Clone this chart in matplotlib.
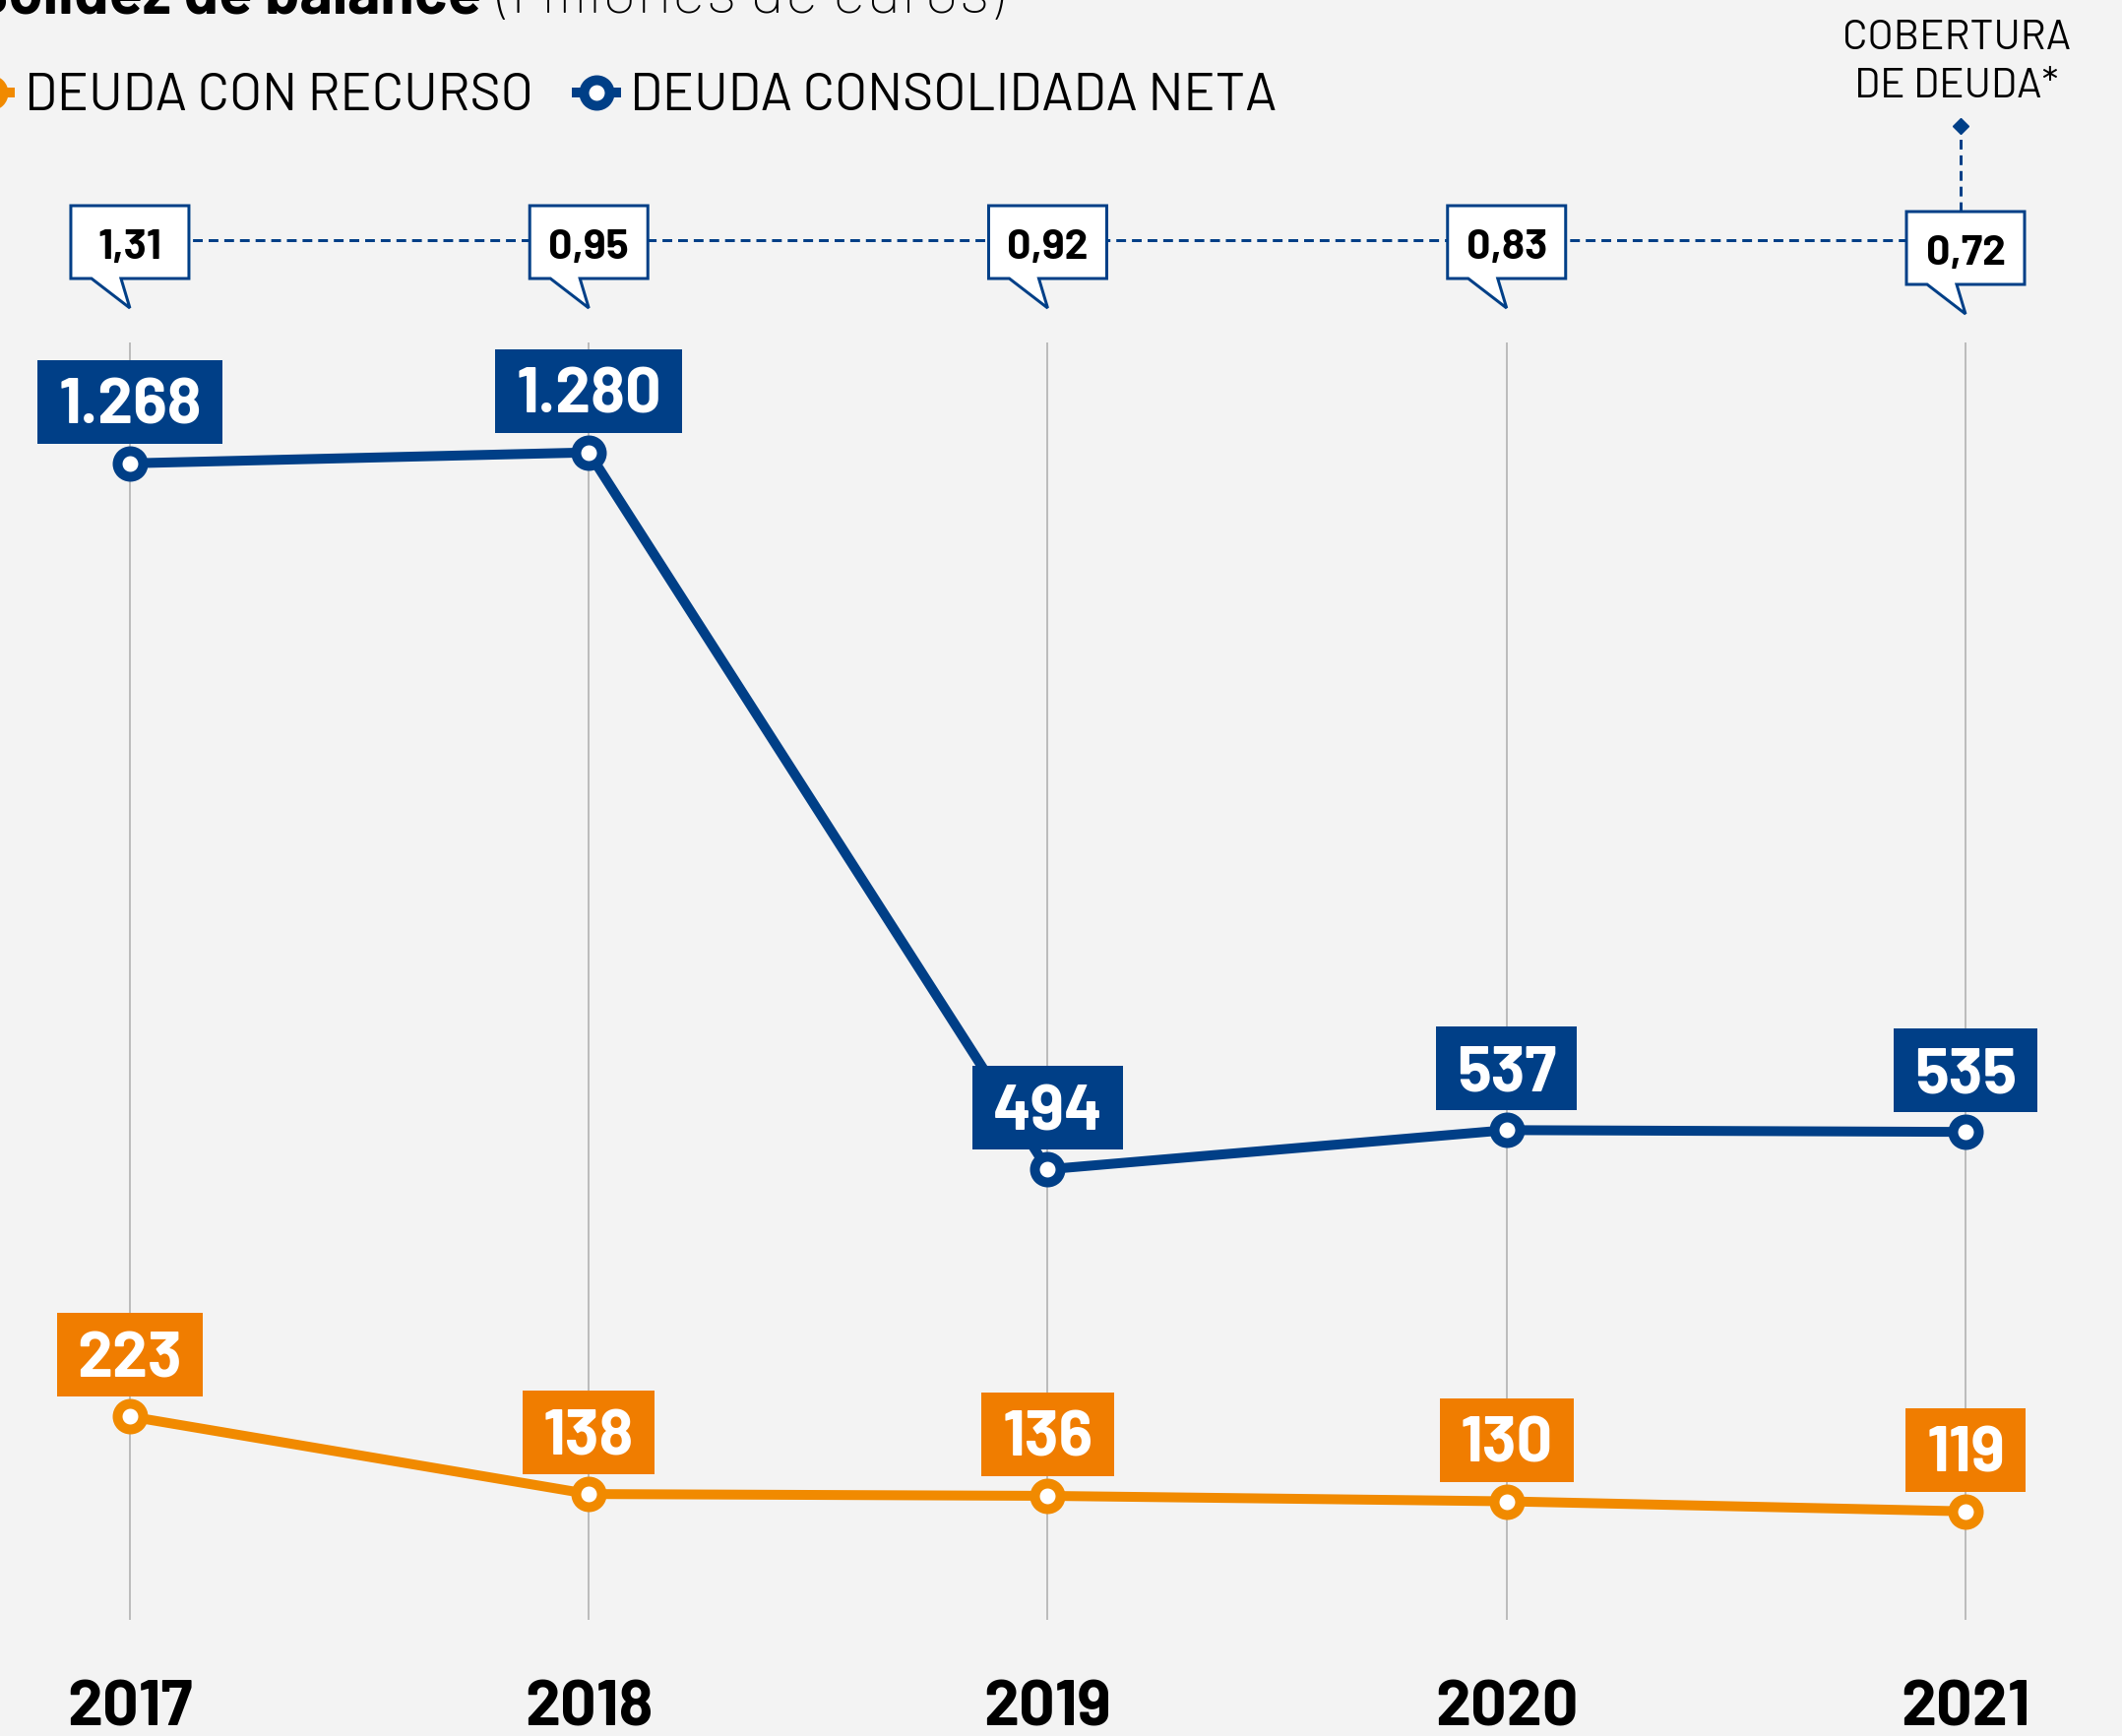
import matplotlib
matplotlib.use('Agg')
import matplotlib.pyplot as plt
from matplotlib.patches import Rectangle, Polygon
from matplotlib.transforms import IdentityTransform
from matplotlib.font_manager import FontProperties
from matplotlib.textpath import TextPath

# ---------------- data ----------------
years = [2017, 2018, 2019, 2020, 2021]
year_labels = ['2017', '2018', '2019', '2020', '2021']
deuda_recurso = [223, 138, 136, 130, 119]
recurso_labels = ['223', '138', '136', '130', '119']
deuda_neta = [1268, 1280, 494, 537, 535]
neta_labels = ['1.268', '1.280', '494', '537', '535']
cobertura = [1.31, 0.95, 0.92, 0.83, 0.72]
cobertura_labels = ['1,31', '0,95', '0,92', '0,83', '0,72']
series_names = ['DEUDA CON RECURSO', 'DEUDA CONSOLIDADA NETA']
title_bold = 'Solidez de balance'
title_light = '(Millones de euros)'
coverage_title = ['COBERTURA', 'DE DEUDA*']

# ---------------- style ----------------
W, H, DPI = 2156, 1764, 100
BG = '#F3F3F3'
BLUE = '#003F87'
ORANGE_BOX = '#F07D00'
ORANGE_LINE = '#F18A00'
GRID = '#ABABAB'
FONT = 'Barlow'
PT = 72 / DPI  # points per pixel

plt.rcParams['font.family'] = [FONT, 'Roboto', 'DejaVu Sans']


def cap_ratio(weight):
    fp = FontProperties(family=[FONT, 'Roboto', 'DejaVu Sans'], weight=weight)
    return TextPath((0, 0), 'H', size=100, prop=fp).get_extents().height / 100


def fs_for_cap(cap_px, weight='normal'):
    """font size (pt) giving a given cap height in pixels"""
    return cap_px / cap_ratio(weight) * PT


fig = plt.figure(figsize=(W / DPI, H / DPI), dpi=DPI, facecolor=BG)
ax = fig.add_axes([0, 0, 1, 1])
ax.set_facecolor(BG)
ax.set_xlim(2016.717, 2021.341)
ax.set_ylim(-127.3, 1776)
ax.axis('off')
ID = IdentityTransform()
renderer = fig.canvas.get_renderer()


def to_px(x, y):
    return ax.transData.transform((x, y))


def top(y_top):
    """convert a top-origin pixel y into display y"""
    return H - y_top


# ---------------- title (cut off at top) ----------------
ax.text(489, top(13), title_bold, transform=ID, ha='right', va='baseline',
        fontsize=fs_for_cap(44, 'bold'), fontweight='bold', color='black',
        clip_on=False)
ax.text(505, top(13), title_light, transform=ID, ha='left', va='baseline',
        fontsize=fs_for_cap(46.5, 'bold'), fontweight='light', color='black',
        clip_on=False)

# ---------------- legend ----------------
leg_y = top(94)
LEG_FS = fs_for_cap(37.3)
for cx, col, tx, name in [(-10, ORANGE_LINE, 25, series_names[0]),
                          (606, BLUE, 640, series_names[1])]:
    ax.plot([cx - 25, cx + 25], [leg_y, leg_y], transform=ID, color=col,
            lw=10 * PT, solid_capstyle='butt', clip_on=False)
    ax.plot([cx], [leg_y], transform=ID, marker='o', ms=18.7, mew=7.2,
            mfc='white', mec=col, clip_on=False)
    ax.text(tx, leg_y - 18, name, transform=ID, ha='left', va='baseline',
            fontsize=LEG_FS, color='black')

# ---------------- grid lines ----------------
ax.vlines(years, 0, 1400, color=GRID, lw=1.5 * PT, zorder=1)

# ---------------- lines ----------------
ax.plot(years, deuda_neta, color=BLUE, lw=10 * PT, zorder=3,
        solid_joinstyle='round')
ax.plot(years, deuda_neta, ls='none', marker='o', ms=18.7, mew=7.2,
        mfc='white', mec=BLUE, zorder=9)
ax.plot(years, deuda_recurso, color=ORANGE_LINE, lw=10 * PT, zorder=3,
        solid_joinstyle='round')
ax.plot(years, deuda_recurso, ls='none', marker='o', ms=18.7, mew=7.2,
        mfc='white', mec=ORANGE_LINE, zorder=9)

# ---------------- value labels ----------------
CAP = 45
VAL_FS = fs_for_cap(CAP, 'bold')


def value_box(x, y, label, color):
    px, py = to_px(x, y)
    bottom = py + 20
    hgt = 85
    cy = bottom + hgt / 2
    t = ax.text(px, cy - CAP / 2, label, transform=ID, ha='center',
                va='baseline', fontsize=VAL_FS, fontweight='bold',
                color='white', zorder=8)
    w = t.get_window_extent(renderer=renderer).width
    bw = w + 42
    ax.add_patch(Rectangle((px - bw / 2, bottom), bw, hgt, transform=ID,
                           facecolor=color, edgecolor='none', zorder=7))


for x, y, lab in zip(years, deuda_neta, neta_labels):
    value_box(x, y, lab, BLUE)
for x, y, lab in zip(years, deuda_recurso, recurso_labels):
    value_box(x, y, lab, ORANGE_BOX)

# ---------------- year labels ----------------
YEAR_FS = fs_for_cap(45, 'bold')
for x, lab in zip(years, year_labels):
    px, _ = to_px(x, 0)
    ax.text(px, top(1753), lab, transform=ID, ha='center', va='baseline',
            fontsize=YEAR_FS, fontweight='bold', color='black')

# ---------------- debt coverage callouts ----------------
x_first = to_px(years[0], 0)[0]
x_last = to_px(years[-1], 0)[0]
ax.plot([x_first, x_last], [top(244), top(244)], transform=ID, color=BLUE,
        lw=3 * PT, dashes=(3.3, 2.0), zorder=2)

CALL_CAP = 30
CALL_FS = fs_for_cap(CALL_CAP, 'bold')
for i, (x, lab) in enumerate(zip(years, cobertura_labels)):
    cx = to_px(x, 0)[0]
    shift = 6 if i == len(years) - 1 else 0
    T = top(209 + shift)
    B = top(283 + shift)
    L, R = cx - 60, cx + 60
    verts = [(L, T), (R, T), (R, B), (cx - 9, B), (cx, B - 30),
             (cx - 39, B), (L, B)]
    ax.add_patch(Polygon(verts, closed=True, transform=ID, facecolor='white',
                         edgecolor=BLUE, lw=3 * PT, joinstyle='miter',
                         zorder=4))
    ax.text(cx, top(248 + shift) - CALL_CAP / 2, lab, transform=ID,
            ha='center', va='baseline', fontsize=CALL_FS, fontweight='bold',
            color='black', zorder=5)

# vertical pointer to "COBERTURA DE DEUDA*"
vx = x_last - 5
ax.plot([vx, vx], [top(215), top(128)], transform=ID, color=BLUE,
        lw=3 * PT, dashes=(3.3, 2.0), zorder=2)
ax.plot([vx], [top(128)], transform=ID, marker='D', ms=8, color=BLUE,
        mec=BLUE, zorder=3)
COV_FS = fs_for_cap(29.5)
ax.text(vx - 4, top(50), coverage_title[0], transform=ID, ha='center',
        va='baseline', fontsize=COV_FS, color='black')
ax.text(vx - 4, top(99), coverage_title[1], transform=ID, ha='center',
        va='baseline', fontsize=COV_FS, color='black')

fig.savefig('out.png', dpi=DPI, facecolor=BG)
